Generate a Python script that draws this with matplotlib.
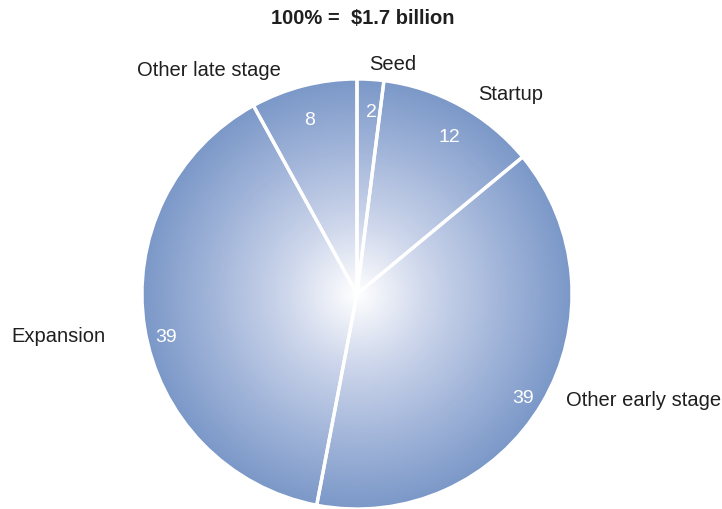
import numpy as np
import matplotlib
matplotlib.use("Agg")
import matplotlib.pyplot as plt
from matplotlib.colors import LinearSegmentedColormap

# Share of $1.7 billion by stage, clockwise from 12 o'clock
categories = ["Seed", "Startup", "Other early stage", "Expansion", "Other late stage"]
shares = [2, 12, 39, 39, 8]
title_text = "100% =  $1.7 billion"

# Figure in pixel units (y up)
W, H = 722, 510
cx, cy, R = 357, 215, 215

# Category label anchors (x, y, ha)
name_pos = {
    "Seed": (369, 445, "left"),
    "Startup": (478, 415, "left"),
    "Other early stage": (566, 109, "left"),
    "Expansion": (105, 173, "right"),
    "Other late stage": (281, 440, "right"),
}
# Value labels: radial distance (fraction of R) and angular nudge (degrees)
value_dist = [0.85, 0.85, 0.91, 0.91, 0.84]
value_nudge = [-0.8, -1.6, -1.4, 3.4, 0.9]

plt.rcParams["font.family"] = ["Liberation Sans", "DejaVu Sans"]

fig = plt.figure(figsize=(W / 100, H / 100), dpi=100)
ax = fig.add_axes([0, 0, 1, 1])

wedges, _ = ax.pie(
    shares, startangle=90, counterclock=False, center=(cx, cy), radius=R,
    wedgeprops=dict(facecolor="none", edgecolor="white", linewidth=2.4, zorder=3),
)

# Radial white-to-blue shading inside each wedge
cmap = LinearSegmentedColormap.from_list(
    "radial", ["#ffffff", "#cdd6eb", "#a3b6da", "#7b98c8"])
n = 700
g = np.linspace(-1, 1, n)
xx, yy = np.meshgrid(g, g)
rr = np.clip(np.sqrt(xx ** 2 + yy ** 2), 0, 1)
for w in wedges:
    im = ax.imshow(rr, cmap=cmap, vmin=0, vmax=1, origin="lower",
                   extent=[cx - R, cx + R, cy - R, cy + R], zorder=1,
                   interpolation="bilinear")
    im.set_clip_path(w)

# Value labels inside the wedges
for w, v, d, dn in zip(wedges, shares, value_dist, value_nudge):
    mid = np.deg2rad((w.theta1 + w.theta2) / 2 + dn)
    ax.text(cx + d * R * np.cos(mid), cy + d * R * np.sin(mid), str(v),
            color="white", fontsize=14, ha="center", va="center", zorder=4)

# Category names
for name in categories:
    x, y, ha = name_pos[name]
    ax.text(x, y, name, fontsize=14.5, color="#1f1f1f", ha=ha, va="center")

ax.text(363, 492, title_text, fontsize=14.5, fontweight="bold",
        color="#1f1f1f", ha="center", va="center")

ax.set_xlim(0, W)
ax.set_ylim(0, H)
ax.set_aspect("equal")
ax.axis("off")

fig.savefig("out.png", dpi=100, facecolor="white")
